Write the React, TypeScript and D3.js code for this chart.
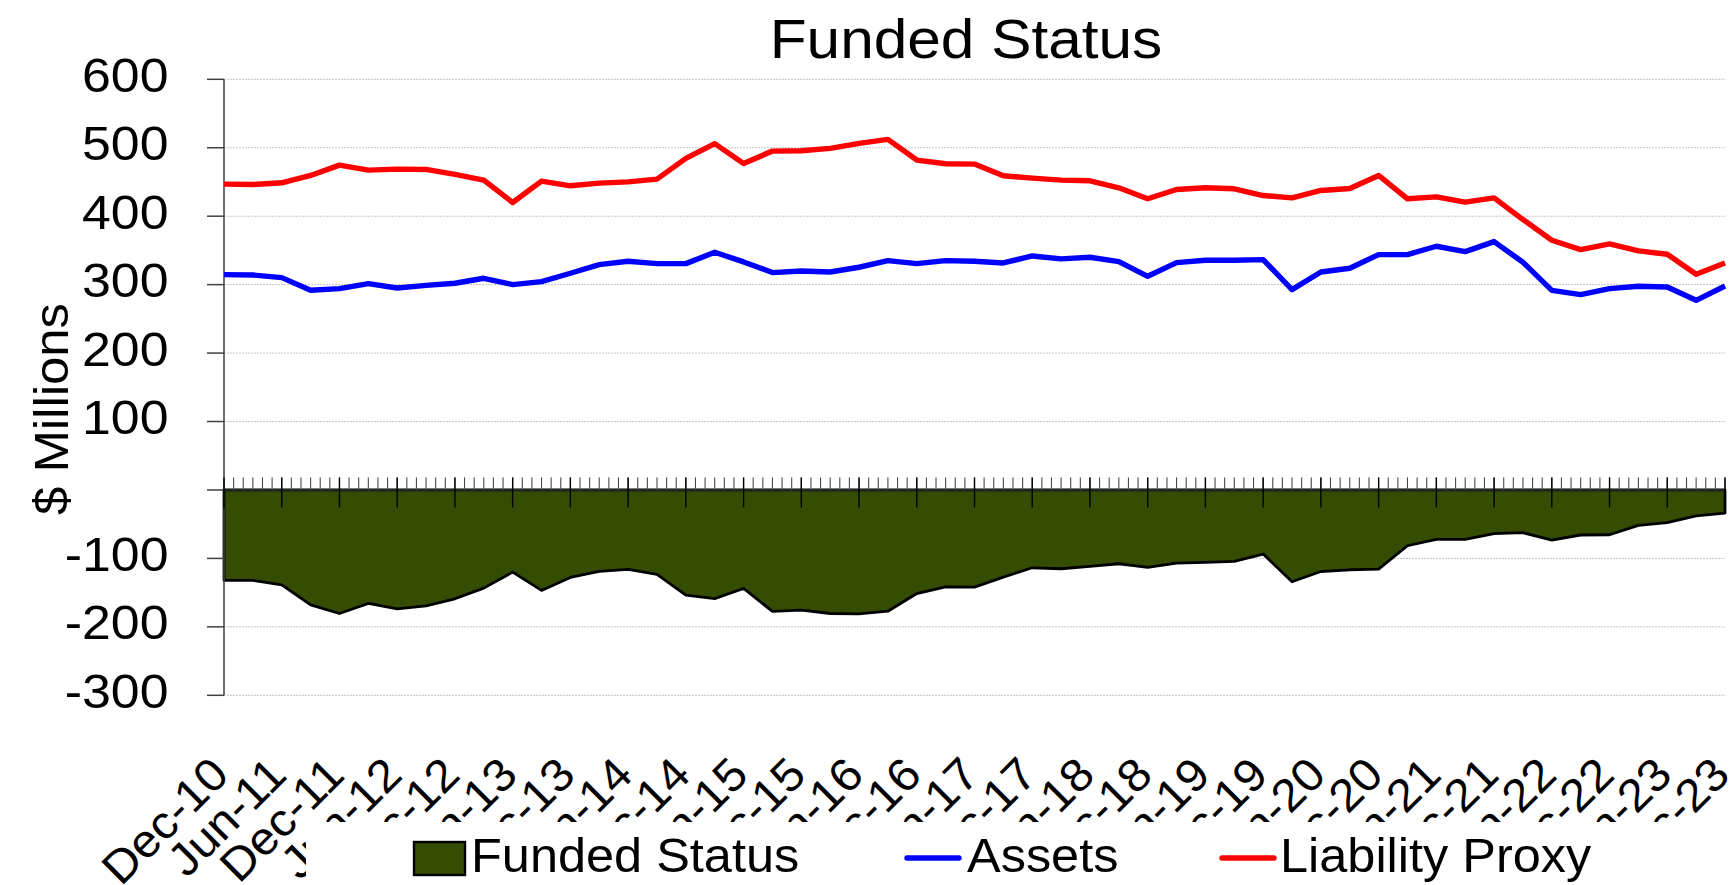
import React, { useEffect } from 'react';
import * as d3 from 'd3';

// Quarter-end observations, Dec-10 .. Dec-23
const quarters = [
  "Dec-10","Mar-11","Jun-11","Sep-11","Dec-11","Mar-12","Jun-12","Sep-12","Dec-12",
  "Mar-13","Jun-13","Sep-13","Dec-13","Mar-14","Jun-14","Sep-14","Dec-14",
  "Mar-15","Jun-15","Sep-15","Dec-15","Mar-16","Jun-16","Sep-16","Dec-16",
  "Mar-17","Jun-17","Sep-17","Dec-17","Mar-18","Jun-18","Sep-18","Dec-18",
  "Mar-19","Jun-19","Sep-19","Dec-19","Mar-20","Jun-20","Sep-20","Dec-20",
  "Mar-21","Jun-21","Sep-21","Dec-21","Mar-22","Jun-22","Sep-22","Dec-22",
  "Mar-23","Jun-23","Sep-23","Dec-23"
];

const assets = [
  314.6, 314.1, 310.2, 291.7, 294.1, 301.5, 295.1, 299.0, 302.0, 309.3, 300.0, 304.4, 316.6,
  329.3, 334.1, 330.7, 330.7, 347.3, 333.2, 317.6, 320.0, 318.5, 325.4, 335.1, 330.7, 335.1,
  334.1, 331.7, 341.9, 337.6, 340.0, 333.7, 312.2, 332.2, 335.6, 335.6, 336.6, 292.7, 318.5,
  323.9, 343.9, 343.9, 356.1, 348.3, 362.9, 332.7, 291.7, 285.4, 294.1, 297.6, 296.6, 277.1, 298.0
];

const liabilityProxy = [
  446.8, 446.3, 448.8, 459.5, 474.6, 467.3, 468.8, 468.3, 461.0, 452.7, 420.0, 451.2, 444.4,
  448.3, 450.2, 454.1, 484.4, 506.0, 477.1, 495.1, 495.6, 499.0, 506.3, 512.2, 482.0, 476.6,
  476.1, 459.0, 455.6, 452.7, 451.7, 441.5, 425.4, 439.0, 441.5, 440.0, 430.2, 426.8, 437.6,
  440.5, 459.5, 425.4, 428.3, 420.5, 426.8, 395.1, 364.9, 351.2, 359.5, 349.3, 344.4, 315.1, 331.7
];

const fundedStatus = [
  -132.2, -132.2, -138.6, -167.8, -180.5, -165.8, -173.7, -169.3, -159.0, -143.4, -120.0, -146.8, -127.8,
  -119.0, -116.1, -123.4, -153.7, -158.7, -143.9, -177.5, -175.6, -180.5, -180.9, -177.1, -151.3, -141.5,
  -142.0, -127.3, -113.7, -115.1, -111.7, -107.8, -113.2, -106.8, -105.9, -104.4, -93.6, -134.1, -119.1,
  -116.6, -115.6, -81.5, -72.2, -72.2, -63.9, -62.4, -73.2, -65.8, -65.4, -51.7, -47.8, -38.0, -33.7
];

const xTickLabels = [
  "Dec-10","Jun-11","Dec-11","Jun-12","Dec-12","Jun-13","Dec-13","Jun-14","Dec-14",
  "Jun-15","Dec-15","Jun-16","Dec-16","Jun-17","Dec-17","Jun-18","Dec-18","Jun-19",
  "Dec-19","Jun-20","Dec-20","Jun-21","Dec-21","Jun-22","Dec-22","Jun-23","Dec-23"
];

const yTickValues = [600, 500, 400, 300, 200, 100, 0, -100, -200, -300];
const yTickLabels = ["600", "500", "400", "300", "200", "100", "", "-100", "-200", "-300"];

const FONT = '"Liberation Sans", Arial, Helvetica, sans-serif';
const W = 1733;
const H = 885;
const AREA_FILL = '#354c03';

function SText(props: {
  x: number; y: number; size: number; sx?: number; rotate?: number;
  anchor?: 'start' | 'middle' | 'end'; children: React.ReactNode;
}) {
  const { x, y, size, sx = 1, rotate = 0, anchor = 'start', children } = props;
  return (
    <text
      transform={`translate(${x},${y}) rotate(${rotate}) scale(${sx},1)`}
      fontFamily={FONT}
      fontSize={size}
      textAnchor={anchor}
      fill="#000"
    >
      {children}
    </text>
  );
}

export default function App() {
  useEffect(() => {
    document.body.style.margin = '0';
  }, []);

  const totalMonths = (quarters.length - 1) * 3;
  const x = d3.scaleLinear().domain([0, totalMonths]).range([224, 1725]);
  const y = d3.scaleLinear().domain([-300, 600]).range([695.3, 79.3]);

  const line = d3.line<number>()
    .x((_, i) => x(i * 3))
    .y(d => y(d));
  const area = d3.area<number>()
    .x((_, i) => x(i * 3))
    .y0(y(0))
    .y1(d => y(d));

  const months = d3.range(0, totalMonths + 1);
  const y0 = y(0);

  return (
    <svg width={W} height={H} style={{ position: 'fixed', left: 0, top: 0, background: '#fff' }}>
      <rect x={0} y={0} width={W} height={H} fill="#fff" />

      {/* gridlines */}
      {yTickValues.filter(v => v !== 0).map(v => (
        <line key={'g' + v} x1={x(0)} x2={x(totalMonths)} y1={y(v)} y2={y(v)}
          stroke="#c4c4c4" strokeWidth={1} strokeDasharray="2 1" />
      ))}

      {/* funded status area */}
      <path d={area(fundedStatus) || ''} fill={AREA_FILL} stroke="#000" strokeWidth={2.8}
        strokeLinejoin="round" />

      {/* y axis */}
      <line x1={x(0)} x2={x(0)} y1={y(600)} y2={y(-300)} stroke="#404040" strokeWidth={1.5} />
      {yTickValues.map(v => (
        <line key={'yt' + v} x1={x(0) - 17} x2={x(0)} y1={y(v)} y2={y(v)} stroke="#404040" strokeWidth={1.5} />
      ))}
      {yTickValues.map((v, i) => (
        yTickLabels[i] ? (
          <SText key={'yl' + v} x={168.5} y={y(v) + 12.5} size={48} sx={1.08} anchor="end">{yTickLabels[i]}</SText>
        ) : null
      ))}

      {/* category (zero) axis */}
      <line x1={x(0)} x2={x(totalMonths)} y1={y0} y2={y0} stroke="#303030" strokeWidth={1.5} />
      {months.map(m => (
        <line key={'mt' + m} x1={x(m)} x2={x(m)} y1={y0 - 12.5} y2={y0} stroke="#4a4a4a" strokeWidth={1.1} />
      ))}
      {xTickLabels.map((_, k) => (
        <line key={'Mt' + k} x1={x(k * 6)} x2={x(k * 6)} y1={y0 - 12.5} y2={y0 + 17.5} stroke="#000" strokeWidth={1.4} />
      ))}

      {/* lines */}
      <path d={line(assets) || ''} fill="none" stroke="#0000ff" strokeWidth={5.4} strokeLinejoin="round" />
      <path d={line(liabilityProxy) || ''} fill="none" stroke="#ff0000" strokeWidth={5.4} strokeLinejoin="round" />

      {/* x labels */}
      {xTickLabels.map((lab, k) => (
        <SText key={'xl' + k} x={x(k * 6) + 7} y={777} size={46} sx={1.05} rotate={-45} anchor="end">{lab}</SText>
      ))}

      {/* title */}
      <SText x={966} y={58.3} size={56} sx={1.078} anchor="middle">Funded Status</SText>

      {/* y axis title */}
      <SText x={68} y={409} size={48} sx={1.06} rotate={-90} anchor="middle">$ Millions</SText>

      {/* legend */}
      <rect x={306} y={822} width={W - 306} height={H - 822} fill="#fff" />
      <rect x={414} y={842} width={51} height={33} fill={AREA_FILL} stroke="#000" strokeWidth={2.4} />
      <SText x={471} y={871.7} size={49} sx={1.03}>Funded Status</SText>
      <line x1={907} x2={959} y1={858} y2={858} stroke="#0000ff" strokeWidth={5.4} strokeLinecap="round" />
      <SText x={967} y={871.7} size={49} sx={1.03}>Assets</SText>
      <line x1={1222} x2={1274} y1={858} y2={858} stroke="#ff0000" strokeWidth={5.4} strokeLinecap="round" />
      <SText x={1280} y={871.7} size={49} sx={1.03}>Liability Proxy</SText>
    </svg>
  );
}
